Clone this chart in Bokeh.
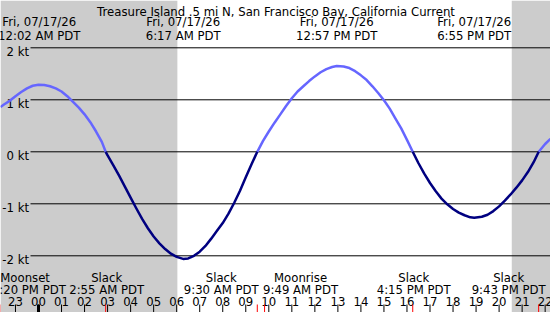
import numpy as np
from bokeh.plotting import figure
from bokeh.models import Range1d, ColumnDataSource
from bokeh.core.properties import value
from bokeh.embed import file_html
from bokeh.resources import INLINE

# ---------------- data ----------------
title = "Treasure Island .5 mi N, San Francisco Bay, California Current"

# current readings (hours from midnight 07/17/26, knots)
hours = [-1.65, -1.5, -1.25, -1.0, -0.75, -0.5, -0.25, 0.0, 0.25, 0.5, 0.75, 1.0, 1.25, 1.5,
         1.75, 2.0, 2.25, 2.5, 2.75, 2.917,
         3.0, 3.25, 3.5, 3.75, 4.0, 4.25, 4.5, 4.75, 5.0, 5.25, 5.5, 5.75, 6.0, 6.28, 6.5,
         6.75, 7.0, 7.25, 7.5, 7.75, 8.0, 8.25, 8.5, 8.75, 9.0, 9.25, 9.5,
         9.75, 10.0, 10.25, 10.5, 10.75, 11.0, 11.25, 11.5, 11.75, 12.0, 12.25, 12.5, 12.75,
         12.95, 13.25, 13.5, 13.75, 14.0, 14.25, 14.5, 14.75, 15.0, 15.25, 15.5, 15.75, 16.0,
         16.25,
         16.5, 16.75, 17.0, 17.25, 17.5, 17.75, 18.0, 18.25, 18.5, 18.75, 18.92, 19.25, 19.5,
         19.75, 20.0, 20.25, 20.5, 20.75, 21.0, 21.25, 21.5, 21.72, 22.0, 22.23]
knots = [0.86, 0.91, 0.98, 1.07, 1.15, 1.22, 1.27, 1.29, 1.285, 1.26, 1.22, 1.16, 1.07, 0.96,
         0.85, 0.72, 0.57, 0.39, 0.19, 0.0,
         -0.07, -0.26, -0.46, -0.67, -0.88, -1.09, -1.29, -1.47, -1.63, -1.76, -1.87, -1.96, -2.02, -2.06, -2.05,
         -2.00, -1.92, -1.81, -1.67, -1.52, -1.37, -1.19, -0.98, -0.75, -0.49, -0.24, 0.0,
         0.21, 0.39, 0.56, 0.72, 0.88, 1.03, 1.16, 1.26, 1.36, 1.45, 1.53, 1.59, 1.63,
         1.65, 1.64, 1.61, 1.55, 1.47, 1.38, 1.26, 1.13, 0.99, 0.83, 0.64, 0.45, 0.23,
         0.0,
         -0.22, -0.42, -0.60, -0.76, -0.90, -1.01, -1.10, -1.17, -1.22, -1.26, -1.27, -1.25, -1.21,
         -1.14, -1.05, -0.94, -0.82, -0.69, -0.55, -0.39, -0.20, 0.0, 0.15, 0.25]

# max / min current events (top labels)
peak_hours = [0.033, 6.283, 12.95, 18.917]
peak_dates = ["Fri, 07/17/26"] * 4
peak_times = ["12:02 AM PDT", "6:17 AM PDT", "12:57 PM PDT", "6:55 PM PDT"]

# slack / moon events (bottom labels)
event_hours = [-1.667, 2.917, 9.5, 9.817, 16.25, 21.717]
event_names = ["Moonset", "Slack", "Slack", "Moonrise", "Slack", "Slack"]
event_times = ["10:20 PM PDT", "2:55 AM PDT", "9:30 AM PDT", "9:49 AM PDT", "4:15 PM PDT", "9:43 PM PDT"]
event_label_shift = [25, 1, -36, 36, 1, -30]  # px, to keep labels apart / on page

sunrise = 6.03
sunset = 20.55

y_ticks = [2, 1, 0, -1, -2]
y_tick_labels = ["2 kt", "1 kt", "0 kt", "-1 kt", "-2 kt"]
hour_ticks = list(range(-1, 23))
hour_labels = ["%02d" % (h % 24) for h in hour_ticks]

# ---------------- layout ----------------
W, H = 550, 312
PX_H = 23.03      # px per hour
PX_K = 52.0       # px per knot
X0 = -38.0 / PX_H
X1 = X0 + W / PX_H
Y1 = 2 + 47.3 / PX_K
Y0 = Y1 - H / PX_K

def px_x(px):
    return X0 + px / PX_H

def px_y(py):
    return Y1 - py / PX_K

FONT = value("DejaVu Sans")
FS = value("11.7px")

p = figure(width=W, height=H, x_range=Range1d(X0, X1), y_range=Range1d(Y0, Y1),
           output_backend="svg", toolbar_location=None, min_border=0, title=None)
p.xaxis.visible = False
p.yaxis.visible = False
p.xgrid.visible = False
p.ygrid.visible = False
p.outline_line_color = None
p.background_fill_color = "white"
p.border_fill_color = "white"

# night shading
p.quad(left=[X0, sunset], right=[sunrise, X1], bottom=Y0, top=Y1,
       fill_color="#cccccc", line_color=None)

# grid lines
p.segment(x0=[px_x(30)] * len(y_ticks), x1=[X1] * len(y_ticks), y0=y_ticks, y1=y_ticks,
          line_color="black", line_width=1)
p.text(x=[px_x(28.5)] * len(y_ticks), y=[v - 4.4 / PX_K for v in y_ticks], text=y_tick_labels,
       text_align="right", text_baseline="alphabetic", text_font=FONT, text_font_size=FS,
       text_color="black")

# current curve, flood light / ebb dark
h = np.array(hours)
k = np.array(knots)
flood = np.where(k >= 0, k, np.nan)
ebb = np.where(k <= 0, k, np.nan)
p.line(h, flood, line_color="#6666ff", line_width=2.5, line_join="round")
p.line(h, ebb, line_color="#000080", line_width=2.5, line_join="round")

# title and top labels
p.text(x=[px_x(275.5)], y=[px_y(11)], text=[title], text_align="center",
       text_baseline="alphabetic", text_font=FONT, text_font_size=FS, text_color="black")
p.text(x=peak_hours, y=[px_y(21.7)] * 4, text=peak_dates, text_align="center",
       text_baseline="alphabetic", text_font=FONT, text_font_size=FS, text_color="black")
p.text(x=peak_hours, y=[px_y(35.7)] * 4, text=peak_times, text_align="center",
       text_baseline="alphabetic", text_font=FONT, text_font_size=FS, text_color="black")

# bottom event labels
src = ColumnDataSource(dict(x=event_hours, name=event_names, t=event_times, dx=event_label_shift))
p.text(x="x", y=px_y(277.7), text="name", x_offset="dx", source=src, text_align="center",
       text_baseline="alphabetic", text_font=FONT, text_font_size=FS, text_color="black")
p.text(x="x", y=px_y(289.3), text="t", x_offset="dx", source=src, text_align="center",
       text_baseline="alphabetic", text_font=FONT, text_font_size=FS, text_color="black")

# hour ticks and labels
p.text(x=hour_ticks, y=[px_y(300.7)] * len(hour_ticks), text=hour_labels, text_align="center",
       text_baseline="alphabetic", text_font=FONT, text_font_size=FS, text_color="black")
p.segment(x0=hour_ticks, x1=hour_ticks, y0=[px_y(304)] * len(hour_ticks),
          y1=[Y0] * len(hour_ticks), line_color="black", line_width=1)
p.segment(x0=[0], x1=[0], y0=[px_y(304)], y1=[Y0], line_color="black", line_width=3)
p.segment(x0=event_hours, x1=event_hours, y0=[px_y(304)] * len(event_hours),
          y1=[Y0] * len(event_hours), line_color="red", line_width=1)

open("out.html", "w").write(file_html(p, INLINE))
